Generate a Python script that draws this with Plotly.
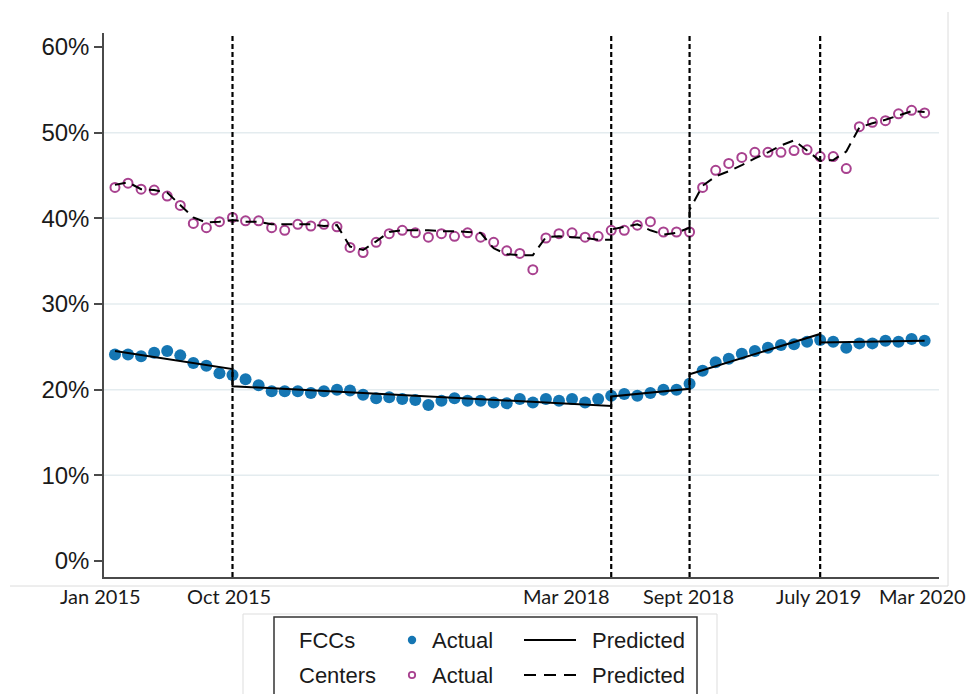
import plotly.graph_objects as go

# ---------------- data ----------------
months = list(range(63))  # Jan 2015 (0) ... Mar 2020 (62)

fcc_actual = [24.1, 24.1, 23.9, 24.3, 24.5, 24.0, 23.1, 22.8, 21.9, 21.7,
              21.2, 20.5, 19.8, 19.8, 19.8, 19.6, 19.8, 20.0, 19.9, 19.4,
              19.0, 19.1, 18.9, 18.8, 18.2, 18.7, 19.0, 18.7, 18.7, 18.5,
              18.4, 18.9, 18.5, 18.9, 18.7, 18.9, 18.5, 18.9, 19.3, 19.5,
              19.3, 19.6, 20.0, 20.0, 20.7, 22.2, 23.2, 23.6, 24.2, 24.5,
              24.9, 25.2, 25.3, 25.6, 25.8, 25.6, 24.9, 25.4, 25.4, 25.7,
              25.6, 25.9, 25.7]

centers_actual = [43.6, 44.1, 43.4, 43.3, 42.6, 41.5, 39.4, 38.9, 39.6, 40.1,
                  39.7, 39.7, 38.9, 38.6, 39.3, 39.1, 39.3, 39.0, 36.6, 36.0,
                  37.2, 38.2, 38.6, 38.3, 37.8, 38.2, 37.9, 38.3, 37.8, 37.2,
                  36.2, 35.9, 34.0, 37.7, 38.2, 38.3, 37.8, 37.9, 38.6, 38.6,
                  39.2, 39.6, 38.4, 38.4, 38.4, 43.6, 45.6, 46.4, 47.1, 47.7,
                  47.7, 47.7, 47.9, 48.0, 47.2, 47.2, 45.8, 50.7, 51.2, 51.4,
                  52.2, 52.6, 52.3]

# FCC predicted: straight segments between break months
fcc_pred_x = [0, 9, 9, 38, 38, 44, 44, 54, 54, 62]
fcc_pred_y = [24.5, 22.4, 20.4, 18.1, 19.2, 20.1, 21.8, 26.5, 25.5, 25.7]

# Centers predicted: monthly, with level shifts at the breaks
cen_pred_x = [0, 1, 2, 3, 4, 5, 6, 7, 8, 9,
              10, 11, 12, 13, 14, 15, 16, 17, 18, 19,
              20, 21, 22, 23, 24, 25, 26, 27, 28, 29,
              30, 31, 32, 33, 34, 35, 36, 37, 38, 38,
              39, 40, 41, 42, 43, 44, 44,
              45, 46, 47, 48, 49, 50, 51, 52, 53,
              54, 55, 56, 57, 58, 59, 60, 61, 62]
cen_pred_y = [43.9, 44.2, 43.4, 43.3, 43.0, 41.5, 40.1, 39.5, 39.6, 39.8,
              39.6, 39.6, 39.3, 39.3, 39.3, 39.3, 39.1, 39.2, 36.7, 36.3,
              37.3, 38.4, 38.6, 38.6, 38.6, 38.5, 38.5, 38.4, 38.3, 36.5,
              35.8, 35.7, 35.7, 37.8, 37.9, 37.8, 37.7, 37.5, 37.5, 38.7,
              39.0, 39.3, 38.6, 38.1, 38.3, 38.9, 41.0,
              43.8, 44.9, 45.5, 46.2, 47.0, 47.7, 48.5, 49.1, 47.9,
              46.7, 46.8, 47.8, 50.6, 51.1, 51.5, 52.0, 52.5, 52.4]

break_months = [9, 38, 44, 54]
xlabel_months = [0, 9, 38, 44, 54, 62]
xlabel_text = ["Jan 2015", "Oct 2015", "Mar 2018", "Sept 2018", "July 2019", "Mar 2020"]
xlabel_shift = [-14, -4, -45, -1, -2, -2]

ytick_vals = [0, 10, 20, 30, 40, 50, 60]
ytick_text = ["0%", "10%", "20%", "30%", "40%", "50%", "60%"]
grid_vals = [10, 20, 30, 40, 50]

legend_rows = ["FCCs", "Centers"]

BLUE = "#1576b3"
MAGENTA = "#a8418f"
AXIS = "#4a4a4a"
TXT = "#1a1a1a"
ARIAL = "Liberation Sans, Arial, sans-serif"

# plot-area geometry (pixels)
W, H = 973, 694
L, R, T, B = 104, 34, 33, 117
PW, PH = W - L - R, H - T - B


def px(xp):
    return (xp - L) / PW


def py(yp):
    return (H - B - yp) / PH


fig = go.Figure()

fig.add_trace(go.Scatter(x=months, y=fcc_actual, mode="markers", name="FCCs Actual",
                         marker=dict(color=BLUE, size=12, line=dict(width=0)),
                         showlegend=False, cliponaxis=False))
fig.add_trace(go.Scatter(x=months, y=centers_actual, mode="markers", name="Centers Actual",
                         marker=dict(symbol="circle-open", color=MAGENTA, size=9,
                                     line=dict(width=2, color=MAGENTA)),
                         showlegend=False, cliponaxis=False))
fig.add_trace(go.Scatter(x=fcc_pred_x, y=fcc_pred_y, mode="lines", name="FCCs Predicted",
                         line=dict(color="black", width=2),
                         showlegend=False))
fig.add_trace(go.Scatter(x=cen_pred_x, y=cen_pred_y, mode="lines", name="Centers Predicted",
                         line=dict(color="black", width=2, dash="11px,7px"),
                         showlegend=False))

shapes = []
for g in grid_vals:
    shapes.append(dict(type="line", xref="paper", x0=0, x1=1, yref="y", y0=g, y1=g,
                       line=dict(color="#e4ecef", width=1.5), layer="below"))
for b in break_months:
    shapes.append(dict(type="line", xref="x", x0=b, x1=b, yref="paper", y0=0, y1=1,
                       line=dict(color="black", width=2.2, dash="5px,3px")))
# outer graph-region border (light)
shapes.append(dict(type="line", xref="paper", yref="paper", x0=px(10), x1=px(948),
                   y0=py(586), y1=py(586), line=dict(color="#dcdcdc", width=1)))
shapes.append(dict(type="line", xref="paper", yref="paper", x0=px(948), x1=px(948),
                   y0=py(586), y1=py(12), line=dict(color="#dcdcdc", width=1)))
# legend boxes
shapes.append(dict(type="rect", xref="paper", yref="paper",
                   x0=px(243), x1=px(717), y0=py(720), y1=py(614),
                   line=dict(color="#dddddd", width=1)))
shapes.append(dict(type="rect", xref="paper", yref="paper",
                   x0=px(274), x1=px(697), y0=py(720), y1=py(617),
                   line=dict(color="#333333", width=1.5)))
# legend keys
row_y = [640, 675]
shapes.append(dict(type="circle", xref="paper", yref="paper",
                   xsizemode="pixel", ysizemode="pixel",
                   xanchor=px(412), yanchor=py(row_y[0]),
                   x0=-4.2, x1=4.2, y0=-4.2, y1=4.2,
                   fillcolor=BLUE, line=dict(color=BLUE, width=0)))
shapes.append(dict(type="circle", xref="paper", yref="paper",
                   xsizemode="pixel", ysizemode="pixel",
                   xanchor=px(412), yanchor=py(row_y[1]),
                   x0=-3.2, x1=3.2, y0=-3.2, y1=3.2,
                   fillcolor="rgba(0,0,0,0)", line=dict(color=MAGENTA, width=1.8)))
shapes.append(dict(type="line", xref="paper", yref="paper",
                   x0=px(524), x1=px(576), y0=py(row_y[0]), y1=py(row_y[0]),
                   line=dict(color="black", width=2)))
shapes.append(dict(type="line", xref="paper", yref="paper",
                   x0=px(524), x1=px(576), y0=py(row_y[1]), y1=py(row_y[1]),
                   line=dict(color="black", width=2, dash="12px,8px")))

annotations = []
for m, t, s in zip(xlabel_months, xlabel_text, xlabel_shift):
    annotations.append(dict(x=m, xref="x", y=py(596), yref="paper",
                            text=t, showarrow=False, xshift=s, yanchor="middle",
                            font=dict(family="Lato, sans-serif", size=20, color=TXT)))
for t, yy in zip(legend_rows, row_y):
    for xx, txt in [(297, t), (430, "Actual"), (590, "Predicted")]:
        annotations.append(dict(x=px(xx), xref="paper", y=py(yy), yref="paper",
                                text=txt, showarrow=False, xanchor="left",
                                yanchor="middle",
                                font=dict(family=ARIAL, size=22, color=TXT)))

fig.update_layout(
    width=W, height=H,
    margin=dict(l=L, r=R, t=T, b=B),
    paper_bgcolor="white", plot_bgcolor="white",
    xaxis=dict(range=[-0.84, 63.1], showline=True, linecolor=AXIS, linewidth=1.5,
               showgrid=False, zeroline=False, showticklabels=False, ticks=""),
    yaxis=dict(range=[-1.87, 61.63], tickvals=ytick_vals, ticktext=ytick_text,
               ticks="outside", ticklen=8, tickwidth=1.5, tickcolor=AXIS,
               showline=True, linecolor=AXIS, linewidth=1.5,
               showgrid=False, zeroline=False,
               tickfont=dict(family=ARIAL, size=24, color=TXT)),
    shapes=shapes,
    annotations=annotations,
    showlegend=False,
)

fig.write_html("out.html", config={"displayModeBar": False},
               post_script="document.body.style.margin='0px';")
